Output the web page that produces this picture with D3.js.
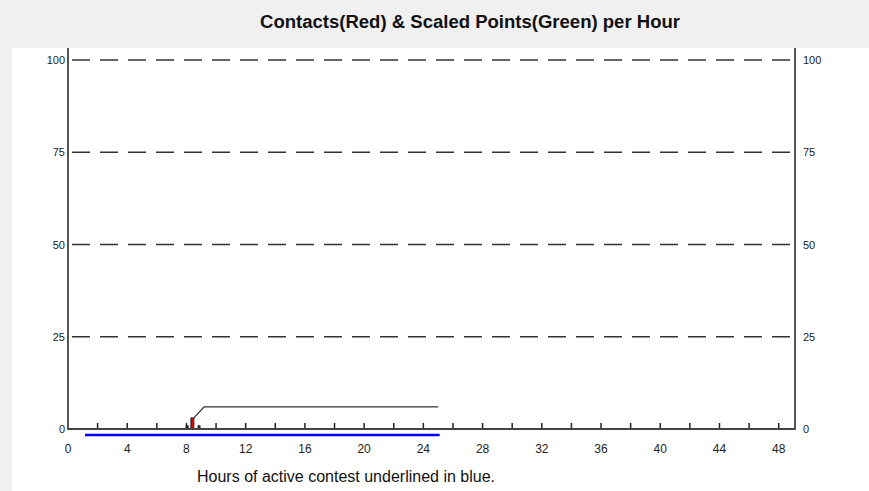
<!DOCTYPE html>
<html><head><meta charset="utf-8">
<script src="https://cdn.jsdelivr.net/npm/d3@7"></script>
<style>html,body{margin:0;padding:0;background:#f0f0f0;}svg{display:block;font-family:"Liberation Sans",Arial,sans-serif;}</style>
</head><body>
<svg id="c" width="869" height="491"></svg>
<script>
const title = "Contacts(Red) & Scaled Points(Green) per Hour";
const xTitle = "Hours of active contest underlined in blue.";
const yTicks = [0, 25, 50, 75, 100];
const xLabelTicks = [0, 4, 8, 12, 16, 20, 24, 28, 32, 36, 40, 44, 48];
const xMinorTicks = [2, 4, 6, 8, 10, 12, 14, 16, 18, 20, 22, 24, 26, 28, 30, 32, 34, 36, 38, 40, 42, 44, 46, 48];
const contactHours = [8.3];
const contactValues = [3];
const otherHours = [7.95, 8.75];
const otherValues = [1, 1];
const lineHours = [8.5, 9.2, 25];
const lineValues = [3, 6, 6];
const activeStart = 1.15, activeEnd = 25.1;

const svg = d3.select("#c");
const x = d3.scaleLinear().domain([0, 49.1]).range([68, 795]);
const y = d3.scaleLinear().domain([0, 100]).range([429, 60]);

svg.append("rect").attr("x", 12).attr("y", 48).attr("width", 857).attr("height", 443).attr("fill", "#ffffff");

svg.append("text").attr("x", 470).attr("y", 28).attr("text-anchor", "middle")
  .attr("font-size", 18).attr("font-weight", "bold").attr("fill", "#111")
  .attr("textLength", 420).attr("lengthAdjust", "spacingAndGlyphs").text(title);

// dashed grid
svg.selectAll(".grid").data(yTicks.filter(d => d > 0)).enter().append("line")
  .attr("x1", x(0) + 4).attr("x2", x.range()[1]).attr("y1", d => y(d)).attr("y2", d => y(d))
  .attr("stroke", "#333").attr("stroke-width", 1.6).attr("stroke-dasharray", "18,10");

// y labels
svg.selectAll(".yl").data(yTicks).enter().append("text")
  .attr("x", 65).attr("y", d => y(d) + 4).attr("text-anchor", "end")
  .attr("font-size", 11).attr("fill", "#222").text(d => d);
svg.selectAll(".yr").data(yTicks).enter().append("text")
  .attr("x", 803).attr("y", d => y(d) + 4).attr("text-anchor", "start")
  .attr("font-size", 11).attr("fill", "#222").text(d => d);

// x axis ticks inward
svg.selectAll(".xt").data(xMinorTicks).enter().append("line")
  .attr("x1", d => x(d)).attr("x2", d => x(d)).attr("y1", y(0)).attr("y2", y(0) - 6)
  .attr("stroke", "#222").attr("stroke-width", 1.5);
svg.selectAll(".xl").data(xLabelTicks).enter().append("text")
  .attr("x", d => x(d)).attr("y", 453).attr("text-anchor", "middle")
  .attr("font-size", 12).attr("fill", "#222").text(d => d);

// other (black) bars
const bw = x(0.2) - x(0);
svg.selectAll(".ob").data(otherHours).enter().append("rect")
  .attr("x", d => x(d)).attr("width", bw).attr("y", (d, i) => y(otherValues[i]))
  .attr("height", (d, i) => y(0) - y(otherValues[i])).attr("fill", "#222");
// red bars
svg.selectAll(".rb").data(contactHours).enter().append("rect")
  .attr("x", d => x(d)).attr("width", bw).attr("y", (d, i) => y(contactValues[i]))
  .attr("height", (d, i) => y(0) - y(contactValues[i]))
  .attr("fill", "#e00000").attr("stroke", "#222").attr("stroke-width", 1);

// line
const pts = lineHours.map((h, i) => [x(h), y(lineValues[i])]);
svg.append("path").attr("d", d3.line()(pts)).attr("fill", "none").attr("stroke", "#333").attr("stroke-width", 1.3);

// axes lines
svg.append("path").attr("d", `M${x(0)},48V${y(0)}H${x.range()[1]}V48`)
  .attr("fill", "none").attr("stroke", "#444").attr("stroke-width", 1.8);

// blue active line
svg.append("line").attr("x1", x(activeStart)).attr("x2", x(activeEnd)).attr("y1", 435).attr("y2", 435)
  .attr("stroke", "#0000ff").attr("stroke-width", 2.5);

svg.append("text").attr("x", 346).attr("y", 482).attr("text-anchor", "middle")
  .attr("font-size", 16).attr("fill", "#111").text(xTitle);
</script>
</body></html>
